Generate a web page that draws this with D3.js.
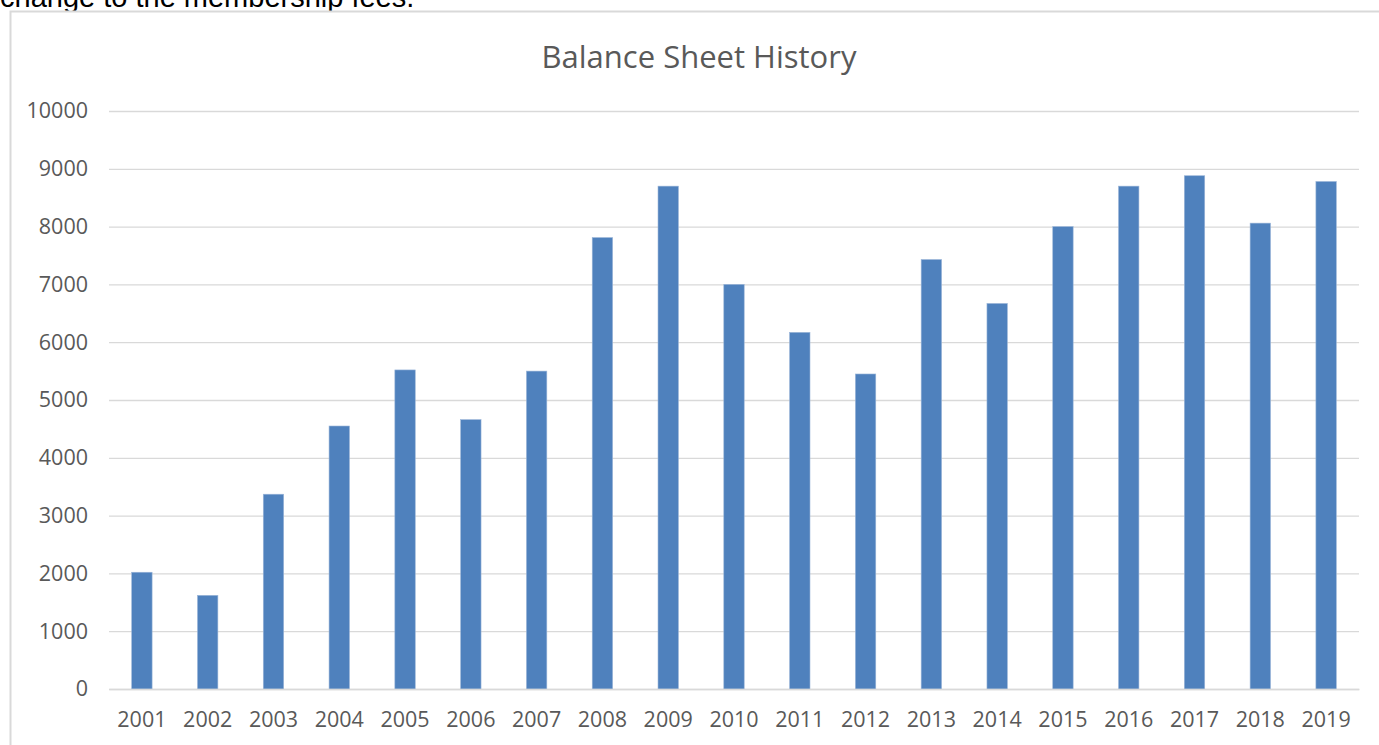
<!DOCTYPE html>
<html>
<head>
<meta charset="utf-8">
<script src="https://cdn.jsdelivr.net/npm/d3@7"></script>
<style>
  html, body { margin: 0; padding: 0; background: #fff; overflow: hidden; }
  svg { display: block; }
</style>
</head>
<body>
<svg id="chart" width="1379" height="745"></svg>
<script>
const years = ["2001","2002","2003","2004","2005","2006","2007","2008","2009","2010","2011","2012","2013","2014","2015","2016","2017","2018","2019"];
const balances = [2020, 1620, 3370, 4550, 5520, 4660, 5500, 7810, 8700, 7000, 6170, 5450, 7430, 6670, 8000, 8700, 8880, 8060, 8780];
const yTicks = [0, 1000, 2000, 3000, 4000, 5000, 6000, 7000, 8000, 9000, 10000];
const chartTitle = "Balance Sheet History";
const precedingText = "change to the membership fees.";

const svg = d3.select("#chart");

// preceding document text (cut off at top, as in the page screenshot)
svg.append("text")
  .attr("x", 0).attr("y", 7)
  .attr("font-family", "Liberation Sans, Arial, sans-serif")
  .attr("font-size", 29)
  .attr("fill", "#000")
  .text(precedingText);

// chart frame
svg.append("rect")
  .attr("x", 10.5).attr("y", 11.5)
  .attr("width", 1400).attr("height", 800)
  .attr("fill", "#fff")
  .attr("stroke", "#d9d9d9").attr("stroke-width", 2);

const plotLeft = 109, plotRight = 1359, plotTop = 111, plotBottom = 689;

const x = d3.scaleBand().domain(years).range([plotLeft, plotRight]).paddingInner(0.69).paddingOuter(0.345);
const y = d3.scaleLinear().domain([0, 10000]).range([plotBottom, plotTop]);

// title
svg.append("text")
  .attr("x", 699).attr("y", 68)
  .attr("text-anchor", "middle")
  .attr("font-family", "Open Sans, sans-serif")
  .attr("font-size", 31)
  .attr("fill", "#595959")
  .text(chartTitle);

// gridlines + y labels
const yAxis = d3.axisLeft(y).tickValues(yTicks).tickFormat(d3.format("d"))
  .tickSize(-(plotRight - plotLeft)).tickPadding(21);
const gy = svg.append("g").attr("transform", `translate(${plotLeft},0)`).call(yAxis);
gy.select(".domain").remove();
gy.selectAll(".tick line").attr("stroke", "#d9d9d9").attr("stroke-width", 1.3);
gy.selectAll(".tick text")
  .attr("font-family", "Open Sans, sans-serif")
  .attr("font-size", 21.5)
  .attr("fill", "#595959");

// bars
svg.append("g").selectAll("rect")
  .data(years.map((d, i) => ({ year: d, v: balances[i] })))
  .join("rect")
  .attr("x", d => x(d.year))
  .attr("y", d => y(d.v))
  .attr("width", x.bandwidth())
  .attr("height", d => y(0) - y(d.v))
  .attr("fill", "#4f81bd")
  .attr("stroke", "#9ab5d8")
  .attr("stroke-width", 0.6);

// x axis
const xAxis = d3.axisBottom(x).tickSize(0).tickPadding(23);
const gx = svg.append("g").attr("transform", `translate(0,${plotBottom})`).call(xAxis);
gx.select(".domain").attr("stroke", "#d9d9d9").attr("stroke-width", 1.5);
gx.selectAll(".tick text")
  .attr("font-family", "Open Sans, sans-serif")
  .attr("font-size", 21.5)
  .attr("fill", "#595959");
</script>
</body>
</html>
